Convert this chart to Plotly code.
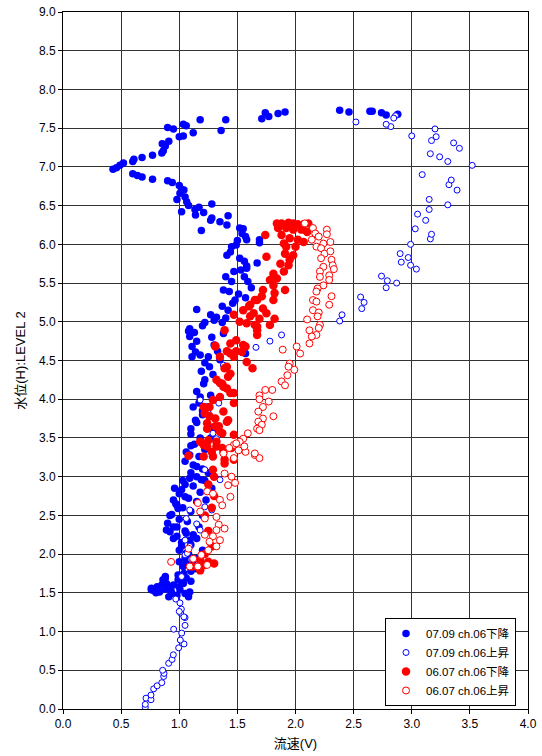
import plotly.graph_objects as go

# 07.09 ch.06 下降 (blue filled)
b_down = [
(2.38,7.73),(2.46,7.71),(2.64,7.72),(2.66,7.72),(2.74,7.70),(2.78,7.67),(2.88,7.68),
(1.71,7.62),(1.74,7.70),(1.77,7.65),(1.85,7.69),(1.91,7.71),(1.40,7.61),(1.36,7.47),(1.18,7.61),
(1.12,7.44),(1.035,7.55),(1.06,7.53),(1.00,7.39),(1.035,7.40),(0.90,7.51),(0.95,7.49),(0.91,7.33),
(0.854,7.30),(0.88,7.27),(0.863,7.21),(0.85,7.18),(0.77,7.15),(0.68,7.12),(0.61,7.10),(0.60,7.07),
(0.52,7.05),(0.49,7.02),(0.46,6.99),(0.43,6.97),
(0.60,6.91),(0.64,6.89),(0.68,6.87),(0.77,6.84),(0.90,6.82),(0.94,6.80),(1.00,6.76),(1.02,6.71),
(1.04,6.70),(1.006,6.66),(0.98,6.58),(1.05,6.61),(1.064,6.55),(1.08,6.50),(1.02,6.42),(1.135,6.45),
(1.17,6.48),(1.14,6.38),(1.21,6.41),(1.28,6.52),(1.19,6.18),(1.28,6.34),(1.27,6.31),(1.35,6.29),
(1.42,6.37),(1.41,6.25),(1.52,6.21),(1.54,6.14),(1.57,6.10),(1.58,6.06),(1.49,5.99),(1.45,5.97),
(1.41,5.86),(1.44,5.90),(1.52,5.82),(1.58,5.72),(1.67,5.76),(1.69,6.02),(1.69,6.06),(1.56,5.78),
(1.58,5.69),(1.53,5.67),(1.47,5.65),(1.40,5.58),(1.56,5.58),(1.45,5.52),(1.59,5.52),(1.38,5.41),
(1.43,5.39),(1.51,5.36),(1.62,5.44),(1.57,5.31),(1.48,5.28),(1.37,5.20),(1.42,5.15),(1.46,5.24),
(1.15,5.16),(1.27,5.09),(1.32,5.06),(1.40,5.05),(1.30,5.02),(1.22,4.99),(1.20,4.95),(1.37,4.99),
(1.09,4.91),(1.08,4.88),(1.13,4.86),(1.09,4.81),(1.15,4.75),(1.11,4.68),(1.14,4.61),(1.11,4.55),
(1.18,4.57),(1.25,4.55),(1.22,4.47),(1.19,4.36),(1.26,4.42),(1.29,4.32),(1.22,4.25),(1.35,4.51),
(1.57,4.59),(1.30,4.70),(1.33,4.62),(1.28,4.80),(1.38,4.85),(1.50,6.05),(1.55,6.20),
(1.21,4.20),(1.18,4.03),(1.24,3.90),(1.12,3.90),(1.10,3.62),(1.14,3.73),(1.06,3.32),(1.09,3.28),
(1.17,3.26),(1.15,3.13),(1.19,2.96),(1.09,2.98),(1.02,2.83),(1.05,2.74),(0.95,2.70),(0.99,2.59),
(0.935,2.51),(0.95,2.35),(0.92,2.29),(0.98,2.23),(1.06,2.27),(1.02,2.10),(1.06,2.01),(1.035,1.84),
(0.99,1.73),(0.88,1.71),(0.98,2.63),(0.89,2.31),(1.09,2.18),(1.06,1.88),(1.14,1.81),(1.06,1.69),
(0.86,1.67),(0.81,1.58),(0.76,1.56),(0.91,1.58),
(0.76,1.54),(0.81,1.56),(0.85,1.60),(0.89,1.62),(0.88,1.69),(0.935,1.49),(0.98,1.47),(1.006,1.54),
(1.05,1.49),(1.09,1.51),(1.08,1.45),(1.035,1.62),(0.99,1.67),(0.91,1.45),(0.83,1.51),
(1.15,4.10),(1.17,3.95),(1.20,3.80),(1.15,3.70),(1.25,3.65),(1.10,3.55),(1.18,3.50),(1.13,3.42),
(1.22,3.35),(1.05,3.20),(1.12,3.15),(1.20,3.10),(1.10,3.05),(1.15,3.00),(1.22,2.95),(1.05,2.90),
(1.12,2.88),(1.18,2.80),(1.00,2.78),(1.08,2.72),(1.15,2.68),(0.97,2.65),(1.03,2.60),(1.10,2.55),
(0.92,2.50),(1.00,2.45),(1.07,2.42),(0.90,2.40),(0.98,2.35),(1.05,2.30),(1.12,2.25),(0.95,2.20),
(1.02,2.15),(1.10,2.12),(1.00,2.05),(1.08,2.00),(1.05,1.95),(1.12,1.92),(1.00,1.90),(1.10,1.78),
(1.04,1.75),(1.10,1.65),(0.95,1.60),(1.00,1.58),(0.88,1.55),(0.93,1.52),(0.80,1.50),(0.78,1.53),
(1.25,3.05),(1.28,2.85),(1.23,2.70),(1.20,2.50),(1.17,2.35),(1.15,2.20),(1.20,2.05),(1.16,1.95),
(1.30,3.60),(1.27,3.50),(1.10,3.40),(1.20,3.85),(1.27,4.05),(1.03,2.95),(0.96,2.85),
]

# 07.09 ch.06 上昇 (blue open)
b_up = [
(0.708,0.02),(0.708,0.06),(0.714,0.14),(0.757,0.12),(0.757,0.18),(0.78,0.26),(0.81,0.30),
(0.85,0.34),(0.866,0.42),(0.869,0.46),(0.857,0.50),(0.909,0.59),(0.938,0.64),(0.949,0.70),
(0.995,0.79),(1.041,0.84),(1.009,0.89),(0.952,1.03),(1.021,0.98),(1.05,1.08),(1.05,1.18),
(1.012,1.24),(1.018,1.29),(1.006,1.37),(0.97,1.42),(1.00,1.26),(1.04,1.19),
(1.02,1.71),(1.05,1.99),(1.07,2.01),(1.05,2.18),(1.09,2.10),(1.06,2.46),(1.09,2.57),(1.18,2.31),
(1.15,2.39),(1.22,2.61),(1.28,2.57),(1.25,2.83),(1.35,2.96),(1.22,3.09),(1.22,3.41),(1.32,3.49),
(1.29,3.56),(1.25,3.82),(1.34,3.95),(1.18,3.99),(1.38,4.44),
(1.66,4.67),(1.78,4.75),(1.88,4.83),
(2.38,5.01),(2.40,5.09),(2.57,5.17),(2.59,5.25),(2.56,5.32),(2.78,5.44),(2.87,5.50),(2.79,5.53),
(2.74,5.59),(3.04,5.68),(2.99,5.73),(2.91,5.77),(2.97,5.83),(2.90,5.88),(2.99,6.00),(3.16,6.07),
(3.17,6.13),(3.03,6.20),(3.12,6.31),(3.05,6.39),(3.15,6.45),(3.31,6.51),(3.15,6.58),(3.39,6.70),
(3.32,6.77),(3.34,6.83),(3.09,6.90),(3.52,7.02),(3.31,7.07),(3.24,7.13),(3.16,7.17),(3.41,7.24),
(3.36,7.31),(3.17,7.34),(3.21,7.39),(3.00,7.40),(3.20,7.49),(2.86,7.66),(2.845,7.63),(2.82,7.52),
(2.78,7.55),(2.52,7.58),
]

# 06.07 ch.06 下降 (red filled)
r_down = [
(1.84,6.27),(1.88,6.27),(1.94,6.28),(1.98,6.27),(2.02,6.26),(2.07,6.26),(2.11,6.27),(1.85,6.21),
(1.92,6.21),(1.98,6.19),(2.05,6.19),(2.10,6.16),(1.74,6.12),(1.88,6.12),(1.95,6.08),(2.02,6.06),
(2.07,6.03),(1.90,6.01),(1.92,5.97),(2.00,5.97),(1.75,5.84),(1.91,5.88),(1.95,5.80),(1.98,5.86),
(1.87,5.75),(1.94,5.73),(1.90,5.65),(1.81,5.62),(1.84,5.56),(1.78,5.54),(1.72,5.41),(1.81,5.47),
(1.91,5.41),(1.82,5.37),(1.71,5.33),(1.65,5.28),(1.81,5.28),(1.61,5.22),(1.72,5.17),(1.75,5.11),
(1.55,5.15),(1.64,5.11),(1.61,5.07),(1.69,5.04),(1.52,5.00),(1.58,4.98),(1.65,4.96),(1.78,4.96),
(1.67,4.89),(1.47,5.09),(1.44,4.72),(1.49,4.76),(1.55,4.70),(1.54,4.61),(1.47,4.55),
(1.67,5.28),(1.60,5.20),(1.82,5.04),(1.67,4.94),(1.39,4.89),(1.67,4.83),(1.31,4.69),(1.44,4.59),
(1.58,4.48),(1.63,4.40),(1.35,4.55),(1.41,4.42),(1.32,4.25),(1.38,4.16),(1.42,4.29),(1.44,4.08),
(1.35,4.03),(1.35,4.21),(1.47,3.95),(1.38,3.84),(1.21,3.90),(1.26,3.78),(1.24,3.69),(1.31,3.65),
(1.41,3.71),(1.35,3.58),(1.18,3.45),(1.24,3.39),(1.32,3.39),(1.38,3.32),(1.08,3.27),(1.21,3.26),
(1.29,3.26),(1.39,3.22),(1.47,3.22),(1.29,3.09),
(1.31,4.68),(1.41,4.62),(1.49,4.62),(1.57,4.68),(1.39,4.40),(1.44,4.33),(1.37,4.20),(1.41,4.14),
(1.47,4.08),(1.29,3.99),(1.26,3.90),(1.22,3.82),(1.31,3.75),(1.42,3.73),(1.34,3.65),(1.24,3.62),
(1.37,3.56),(1.47,3.54),(1.25,3.47),(1.32,3.45),(1.21,3.41),(1.28,3.32),(1.37,3.37),(1.45,3.37),
(1.39,3.17),(1.18,1.79),(1.11,1.84),(1.18,1.92),(1.22,1.86),(1.25,1.90),(1.30,1.88),(1.22,2.00),
(1.28,2.10),(1.25,2.30),(1.22,2.50),(1.28,2.60),(1.30,2.75),(1.25,2.90),(1.30,3.00),
]

# 06.07 ch.06 上昇 (red open)
r_up = [
(2.08,6.27),(2.15,6.21),(2.17,6.14),(2.20,6.10),(2.27,6.19),(2.27,6.13),(2.14,6.06),(2.24,6.01),
(2.30,6.03),(2.18,5.97),(2.22,5.95),(2.25,5.88),(2.30,5.91),(2.22,5.82),(2.31,5.80),(2.32,5.73),
(2.33,5.68),(2.24,5.71),(2.21,5.65),(2.21,5.58),(2.29,5.60),(2.29,5.54),(2.24,5.47),(2.19,5.43),
(2.18,5.39),(2.31,5.33),(2.15,5.28),(2.18,5.26),(2.29,5.22),(2.15,5.15),(2.20,5.12),(2.19,5.07),
(2.10,5.03),(2.21,4.96),(2.20,4.92),(2.12,4.89),(2.18,4.83),(2.14,4.81),(2.12,4.72),(2.01,4.68),
(1.89,4.64),(2.04,4.59),
(1.95,4.46),(1.94,4.42),(1.99,4.38),(1.93,4.31),(1.88,4.23),(1.91,4.18),(1.80,4.12),(1.74,4.12),
(1.69,4.05),(1.77,3.97),(1.69,4.00),(1.72,3.90),(1.68,3.84),(1.72,3.75),(1.81,3.78),(1.68,3.71),
(1.71,3.67),(1.67,3.62),(1.69,3.60),(1.59,3.56),(1.55,3.49),(1.52,3.45),(1.47,3.41),(1.43,3.37),
(1.51,3.34),(1.57,3.32),(1.65,3.28),(1.69,3.24),(1.38,3.30),(1.47,3.24),
(1.49,3.43),(1.56,3.39),(1.65,3.30),(1.39,3.04),(1.45,3.00),(1.48,2.92),(1.42,2.89),(1.24,2.81),
(1.29,2.78),(1.35,2.70),(1.44,2.74),(1.37,2.63),(1.16,2.66),(1.18,2.55),(1.22,2.46),(1.32,2.48),
(1.34,2.38),(1.39,2.33),(1.32,2.31),(1.22,2.25),(1.29,2.23),(1.35,2.18),(1.26,2.16),(1.32,2.10),
(1.25,2.05),(1.08,2.07),(1.19,1.99),(1.12,1.94),(0.93,1.90),(1.09,1.84),(1.16,1.84),(1.24,1.86),
]

names = ["07.09 ch.06下降", "07.09 ch.06上昇", "06.07 ch.06下降", "06.07 ch.06上昇"]
x_ticks = [0.0, 0.5, 1.0, 1.5, 2.0, 2.5, 3.0, 3.5, 4.0]
y_ticks = [0.0, 0.5, 1.0, 1.5, 2.0, 2.5, 3.0, 3.5, 4.0, 4.5, 5.0, 5.5, 6.0, 6.5, 7.0, 7.5, 8.0, 8.5, 9.0]

BLUE = "#0000FF"
RED = "#FF0000"
FONT = "Arial, 'Liberation Sans', 'Noto Sans CJK JP', sans-serif"

fig = go.Figure()
fig.add_trace(go.Scatter(x=[p[0] for p in b_down], y=[p[1] for p in b_down], mode="markers",
                         name=names[0], marker=dict(symbol="circle", size=7.5, color=BLUE, line=dict(width=0))))
fig.add_trace(go.Scatter(x=[p[0] for p in b_up], y=[p[1] for p in b_up], mode="markers",
                         name=names[1], marker=dict(symbol="circle", size=6, color="white", line=dict(width=1, color=BLUE))))
fig.add_trace(go.Scatter(x=[p[0] for p in r_down], y=[p[1] for p in r_down], mode="markers",
                         name=names[2], marker=dict(symbol="circle", size=8.5, color=RED, line=dict(width=0))))
fig.add_trace(go.Scatter(x=[p[0] for p in r_up], y=[p[1] for p in r_up], mode="markers",
                         name=names[3], marker=dict(symbol="circle", size=7, color="white", line=dict(width=1, color=RED))))

axis_common = dict(showgrid=True, gridcolor="#333333", gridwidth=1, zeroline=False,
                   showline=True, linecolor="black", linewidth=1, mirror=True,
                   ticks="outside", ticklen=4, tickcolor="black", automargin=False,
                   tickfont=dict(family=FONT, size=12, color="black"), tickformat=".1f")

fig.update_xaxes(range=[0, 4], tickvals=x_ticks,
                 title=dict(text="流速(V)", font=dict(family=FONT, size=13, color="black"), standoff=8), **axis_common)
fig.update_yaxes(range=[0, 9], tickvals=y_ticks,
                 title=dict(text="水位(H):LEVEL 2", font=dict(family=FONT, size=13, color="black"), standoff=10), **axis_common)

fig.update_layout(
    width=542, height=756,
    margin=dict(l=63, r=14, t=12, b=47, autoexpand=False),
    paper_bgcolor="white", plot_bgcolor="white",
    showlegend=True,
    legend=dict(x=0.6925, y=0.1306, xanchor="left", yanchor="top",
                bgcolor="white", bordercolor="black", borderwidth=1,
                font=dict(family=FONT, size=11.5, color="black"),
                tracegroupgap=0, itemwidth=30),
)

fig.write_html("out.html", config={"displayModeBar": False},
               post_script="document.body.style.margin='0';document.body.style.overflow='hidden';")
